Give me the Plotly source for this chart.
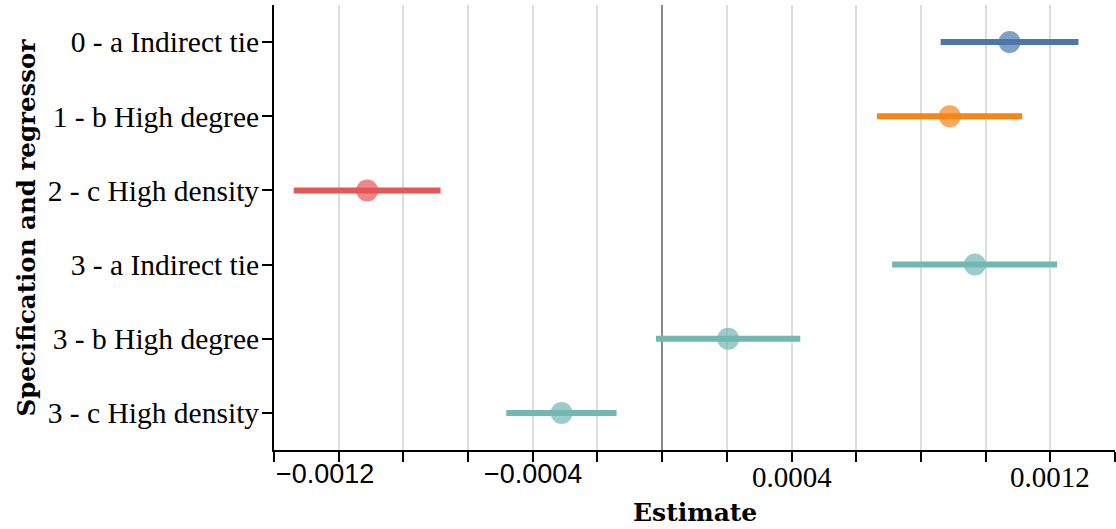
import plotly.graph_objects as go

# ---- data ----
labels = ["0 - a Indirect tie", "1 - b High degree", "2 - c High density",
          "3 - a Indirect tie", "3 - b High degree", "3 - c High density"]
specs = [0, 1, 2, 3, 3, 3]
estimate = [0.001074, 0.000889, -0.000912, 0.000967, 0.000204, -0.000311]
ci_low = [0.000861, 0.000664, -0.001139, 0.000711, -0.000019, -0.000482]
ci_high = [0.001287, 0.001113, -0.000685, 0.001221, 0.000427, -0.000141]

spec_colors = {0: "#4c78a8", 1: "#f58518", 2: "#e45756", 3: "#72b7b2"}

x_tick_vals = [-0.0012, -0.0004, 0.0004, 0.0012]
x_tick_text = ["\u22120.0012", "\u22120.0004", "0.0004", "0.0012"]
x_range = [-0.0012, 0.0014]

SERIF = "Liberation Serif"
SERIF_BOLD = "DejaVu Serif"
SANS = "Liberation Sans"

fig = go.Figure()

# interval lines
for lab, s, lo, hi in zip(labels, specs, ci_low, ci_high):
    fig.add_trace(go.Scatter(
        x=[lo, hi], y=[lab, lab], mode="lines",
        line=dict(color=spec_colors[s], width=6),
        showlegend=False, hoverinfo="skip"))

# point estimates
for lab, s, est in zip(labels, specs, estimate):
    fig.add_trace(go.Scatter(
        x=[est], y=[lab], mode="markers",
        marker=dict(color=spec_colors[s], size=22, opacity=0.7, line=dict(width=0)),
        showlegend=False))

# x tick labels (first label flush-left with axis start, like the reference)
annotations = []
for v, t in zip(x_tick_vals, x_tick_text):
    is_neg = t.startswith("\u2212")
    annotations.append(dict(
        x=v, y=0, xref="x", yref="paper", text=t, showarrow=False,
        xanchor="left" if v == x_range[0] else "center",
        yanchor="top", yshift=-7 if is_neg else -9,
        font=dict(family=SANS if is_neg else SERIF, size=27 if is_neg else 29,
                  color="black")))

# axis titles
annotations.append(dict(
    x=(695 - 274) / (1115 - 274), y=0, xref="paper", yref="paper",
    text="<b>Estimate</b>",
    showarrow=False, xanchor="center", yanchor="top", yshift=-46,
    font=dict(family=SERIF_BOLD, size=25, color="black")))
annotations.append(dict(
    x=0, y=0.5, xref="paper", yref="paper", text="<b>Specification and regressor</b>",
    showarrow=False, xanchor="center", yanchor="middle", textangle=-90, xshift=-248,
    font=dict(family=SERIF_BOLD, size=24.5, color="black")))

fig.update_layout(
    width=1116, height=529,
    margin=dict(l=274, r=1, t=5, b=79),
    plot_bgcolor="white", paper_bgcolor="white",
    annotations=annotations,
    xaxis=dict(
        range=x_range, dtick=0.0002, tick0=0,
        showticklabels=False,
        ticks="outside", ticklen=10, tickwidth=2, tickcolor="black",
        showgrid=True, gridcolor="#dddddd", gridwidth=2,
        zeroline=True, zerolinecolor="#888888", zerolinewidth=2,
        showline=True, linecolor="black", linewidth=2,
    ),
    yaxis=dict(
        type="category", categoryorder="array", categoryarray=labels,
        range=[len(labels) - 0.5, -0.5],
        ticks="outside", ticklen=10, tickwidth=2, tickcolor="black",
        showgrid=False, zeroline=False,
        showline=True, linecolor="black", linewidth=2,
        tickfont=dict(family=SERIF, size=29.5, color="black"),
        ticklabelstandoff=-3,
    ),
)

fig.write_html("out.html", config={"displayModeBar": False},
               post_script="document.body.style.margin='0';document.body.style.overflow='hidden';")
